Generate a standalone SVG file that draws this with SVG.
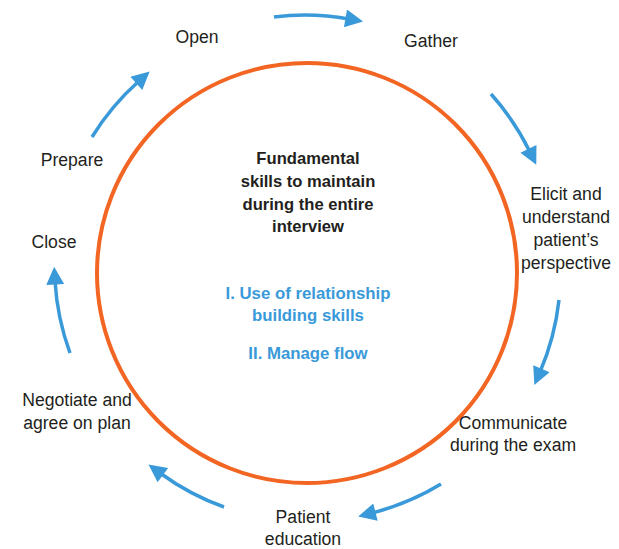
<svg xmlns="http://www.w3.org/2000/svg" width="619" height="549" viewBox="0 0 619 549">
  <style>
    .lbl { font-family: "Liberation Sans", Arial, sans-serif; font-size: 17.6px; fill: #231f20; text-anchor: middle; }
    .core { font-family: "Liberation Sans", Arial, sans-serif; font-size: 16.6px; font-weight: bold; fill: #231f20; text-anchor: middle; }
    .skill { font-family: "Liberation Sans", Arial, sans-serif; font-size: 16.8px; font-weight: bold; fill: #3a9ad9; text-anchor: middle; }
    .arc { fill: none; stroke: #3a9ad9; stroke-width: 3.5; marker-end: url(#head); }
  </style>
  <defs>
    <marker id="head" viewBox="0 0 10 10" refX="2" refY="5" markerWidth="5.9" markerHeight="5.1" markerUnits="strokeWidth" orient="auto">
      <path d="M0,0 L10,5 L0,10 z" fill="#3a9ad9"/>
    </marker>
  </defs>
  <rect width="619" height="549" fill="#ffffff"/>

  <!-- central skills ring -->
  <g id="core">
    <circle cx="307" cy="273" r="210" fill="none" stroke="#f26522" stroke-width="4"/>
    <text class="core" x="308" y="164">Fundamental</text>
    <text class="core" x="308" y="187">skills to maintain</text>
    <text class="core" x="308" y="210">during the entire</text>
    <text class="core" x="308" y="232">interview</text>
    <text class="skill" x="308" y="299">I. Use of relationship</text>
    <text class="skill" x="308" y="321">building skills</text>
    <text class="skill" x="308" y="359">II. Manage flow</text>
  </g>

  <!-- cycle stages -->
  <g id="open"><text class="lbl" x="197" y="43">Open</text></g>
  <g id="gather"><text class="lbl" x="431" y="47">Gather</text></g>
  <g id="elicit">
    <text class="lbl" x="566" y="200">Elicit and</text>
    <text class="lbl" x="566" y="223">understand</text>
    <text class="lbl" x="566" y="246">patient’s</text>
    <text class="lbl" x="566" y="269">perspective</text>
  </g>
  <g id="communicate">
    <text class="lbl" x="513" y="429">Communicate</text>
    <text class="lbl" x="513" y="451">during the exam</text>
  </g>
  <g id="education">
    <text class="lbl" x="303" y="523">Patient</text>
    <text class="lbl" x="303" y="545">education</text>
  </g>
  <g id="negotiate">
    <text class="lbl" x="77" y="406">Negotiate and</text>
    <text class="lbl" x="77" y="429">agree on plan</text>
  </g>
  <g id="close"><text class="lbl" x="54" y="248">Close</text></g>
  <g id="prepare"><text class="lbl" x="72" y="166">Prepare</text></g>

  <!-- clockwise connectors on a circle centred (307,268), r 253 -->
  <g id="connectors">
    <path class="arc" d="M274,17 A253,253 0 0 1 349,19"/>
    <path class="arc" d="M491,94 A253,253 0 0 1 530,152"/>
    <path class="arc" d="M559,300 A253,253 0 0 1 540,372"/>
    <path class="arc" d="M441,484 A253,253 0 0 1 372,513"/>
    <path class="arc" d="M224,507 A253,253 0 0 1 160,473"/>
    <path class="arc" d="M70,353 A253,253 0 0 1 55,281"/>
    <path class="arc" d="M92,137 A253,253 0 0 1 139,81"/>
  </g>
</svg>
